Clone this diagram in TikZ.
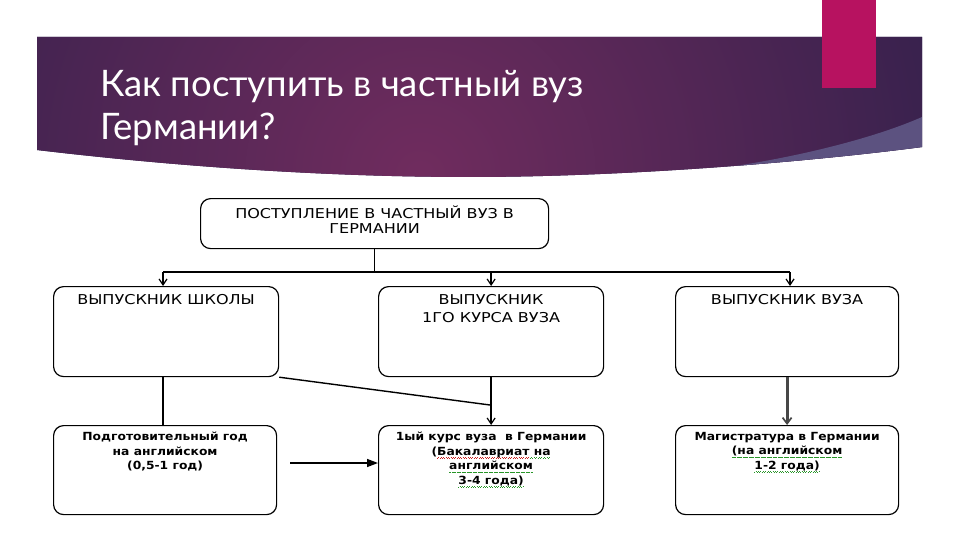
\documentclass[tikz,border=0pt]{standalone}
\usepackage{fontspec}
\setmainfont{DejaVu Sans}
\newfontfamily\capsfont[FakeStretch=1.18]{DejaVu Sans}
\newfontfamily\smallfont[FakeStretch=1.1]{DejaVu Sans}
\newfontfamily\titlefont{Lato}
\usetikzlibrary{arrows.meta}
\newsavebox{\wavbox}
\newcommand{\wav}[2]{\sbox{\wavbox}{#2}\rlap{\raisebox{-2.8pt}{\color{#1}\hbox to\wd\wavbox{\xleaders\hbox{\vrule width0.9pt height0.6pt\kern0.3pt\raise0.6pt\hbox{\vrule width0.9pt height0.6pt}\kern0.3pt}\hfill}}}\usebox{\wavbox}}
\definecolor{banddark}{RGB}{38,30,72}
\definecolor{bandmid}{RGB}{112,44,94}
\definecolor{swoosh}{RGB}{92,82,128}
\definecolor{barmag}{RGB}{183,18,96}
\definecolor{wred}{RGB}{200,30,30}
\definecolor{wgreen}{RGB}{40,150,40}
\begin{document}
\begin{tikzpicture}[x=1pt,y=-1pt,
  box/.style={draw=black,line width=1.2pt,rounded corners=10pt,inner sep=0pt},
  capstext/.style={font=\capsfont\fontsize{13.6}{15}\selectfont,align=center,inner sep=0pt},
  smalltext/.style={font=\smallfont\fontsize{11.2}{14.6}\selectfont\bfseries,align=center,inner sep=0pt},
  conn/.style={draw=black,line width=1.4pt},
  arr/.style={conn,-{Straight Barb[length=6pt,width=8pt,line width=1.2pt]}},
  triarr/.style={conn,-{Triangle[length=11pt,width=8pt]}},
  grayarr/.style={draw=black!72,line width=2.8pt,-{Straight Barb[length=6pt,width=9pt,line width=1.7pt]}},
  titlestyle/.style={font=\titlefont\fontsize{36.5}{43}\selectfont,text=white,inner sep=0pt,anchor=base west}
]
\useasboundingbox (0,0) rectangle (960,540);
\fill[white] (0,0) rectangle (960,540);
% header band
\begin{scope}
\clip (37,37) -- (922,37) -- (922,147) .. controls (800,163) and (620,177) .. (470,177) .. controls (330,177) and (180,167) .. (37,150) -- cycle;
\fill[banddark] (0,0) rectangle (960,200);
\shade[inner color=bandmid,outer color=banddark] (420,175) circle (700);
\fill[swoosh] (690,172) .. controls (780,162) and (870,140) .. (922,117) -- (922,150) -- (690,180) -- cycle;
\end{scope}
\fill[barmag] (822,0) rectangle (876,88);
\node[titlestyle] (title1) at (100,97) {Как поступить в частный вуз};
\node[titlestyle] (title2) at (100,140) {Германии?};
% boxes
\node[box,minimum width=348pt,minimum height=50pt,anchor=north west,
  label={[capstext,anchor=north,yshift=-8pt]north:{ПОСТУПЛЕНИЕ В ЧАСТНЫЙ ВУЗ В\\ГЕРМАНИИ}}] (top) at (200,198) {};
\node[box,minimum width=225pt,minimum height=90pt,anchor=north west,
  label={[capstext,anchor=north,yshift=-8pt]north:{ВЫПУСКНИК ШКОЛЫ}}] (b1) at (53,286) {};
\node[box,minimum width=225pt,minimum height=90pt,anchor=north west,
  label={[capstext,anchor=north,yshift=-8pt,font=\capsfont\fontsize{13.6}{18}\selectfont]north:{ВЫПУСКНИК\\1ГО КУРСА ВУЗА}}] (b2) at (378,286) {};
\node[box,minimum width=223pt,minimum height=90pt,anchor=north west,
  label={[capstext,anchor=north,yshift=-8pt]north:{ВЫПУСКНИК ВУЗА}}] (b3) at (675,286) {};
\node[box,minimum width=223pt,minimum height=89pt,anchor=north west,
  label={[smalltext,anchor=north,yshift=-7pt]north:{Подготовительный год\\на английском\\(0,5-1 год)}}] (c1) at (53,425) {};
\node[box,minimum width=225pt,minimum height=89pt,anchor=north west,
  label={[smalltext,anchor=north,yshift=-7pt]north:{1ый курс вуза\ \ в Германии\\(\wav{wred}{Бакалавриат}\wav{wgreen}{ на}\\\wav{wgreen}{английском}\\\wav{wgreen}{3-4 года)}}}] (c2) at (378,425) {};
\node[box,minimum width=223pt,minimum height=89pt,anchor=north west,
  label={[smalltext,anchor=north,yshift=-7pt]north:{Магистратура в Германии\\\wav{wgreen}{(на английском}\\\wav{wgreen}{1-2 года)}}}] (c3) at (675,425) {};
% connectors
\coordinate (busL) at (163,272);
\coordinate (busR) at (790,272);
\coordinate (busM) at (b2.north |- busL);
\coordinate (mj) at (490,405);
\coordinate (ha) at (290,463);
\draw[conn] (top.south) -- (top.south |- busL);
\draw[conn] (busL) -- (busR);
\draw[arr] (busL) -- (busL |- b1.north);
\draw[arr] (busM) -- (b2.north);
\draw[arr] (busR) -- (busR |- b3.north);
\draw[conn] (busL |- b1.south) -- (busL |- c1.north);
\draw[conn] (b1.south east) -- (mj);
\draw[arr] (b2.south) -- (c2.north);
\draw[triarr] (ha) -- (ha -| c2.west);
\draw[grayarr] (b3.south) -- (c3.north);
\end{tikzpicture}
\end{document}
